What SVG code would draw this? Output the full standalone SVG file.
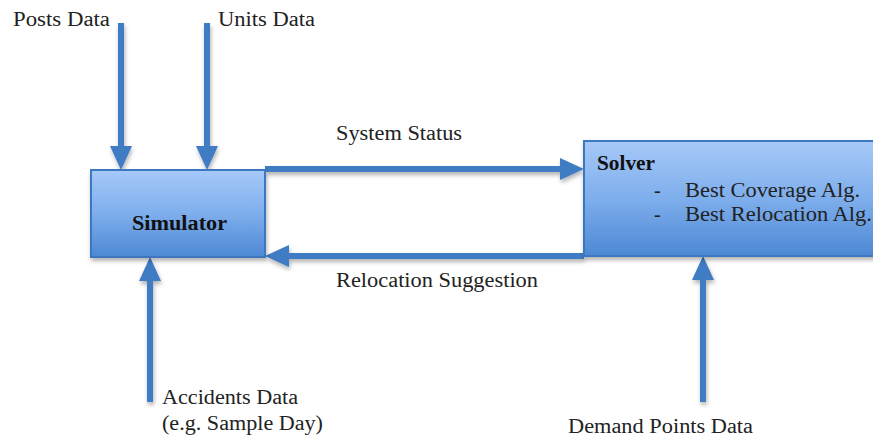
<svg xmlns="http://www.w3.org/2000/svg" width="873" height="438" viewBox="0 0 873 438">
<defs>
<linearGradient id="boxGrad" x1="0" y1="0" x2="0" y2="1">
<stop offset="0" stop-color="#a6c9f8"/>
<stop offset="0.5" stop-color="#7eaeec"/>
<stop offset="1" stop-color="#4d88d4"/>
</linearGradient>
<filter id="shadow" x="-10%" y="-10%" width="130%" height="140%">
<feDropShadow dx="1" dy="3" stdDeviation="2" flood-color="#000" flood-opacity="0.3"/>
</filter>
<marker id="head" viewBox="0 0 24 22" markerWidth="24" markerHeight="22" refX="10" refY="11" orient="auto" markerUnits="userSpaceOnUse">
<path d="M0,0 L24,11 L0,22 z" fill="#3f7bc3"/>
</marker>
</defs>
<style>
.box{fill:url(#boxGrad);stroke:#3d77c0;stroke-width:2;filter:url(#shadow)}
.conn{stroke:#3f7bc3;stroke-width:6;fill:none;marker-end:url(#head)}
.lbl{font-family:"Liberation Serif","Times New Roman",serif;font-size:20px;fill:#222}
.bold{font-family:"Liberation Serif","Times New Roman",serif;font-size:20px;font-weight:bold;fill:#111}
</style>
<rect width="873" height="438" fill="#fff"/>
<g id="connectors" filter="url(#shadow)">
<line class="conn" x1="121" y1="23" x2="121" y2="156"/>
<line class="conn" x1="207" y1="23" x2="207" y2="156"/>
<line class="conn" x1="150" y1="402" x2="150" y2="271"/>
<line class="conn" x1="703" y1="402" x2="703" y2="270"/>
<line class="conn" x1="265" y1="169" x2="570" y2="169"/>
<line class="conn" x1="584" y1="256" x2="279" y2="256"/>
</g>
<g id="simulator">
<rect class="box" x="91" y="170" width="174" height="87"/>
<text class="bold" x="132" y="230" textLength="95" lengthAdjust="spacingAndGlyphs">Simulator</text>
</g>
<g id="solver">
<rect class="box" x="584" y="141" width="300" height="115"/>
<text class="bold" x="597" y="170" textLength="58" lengthAdjust="spacingAndGlyphs">Solver</text>
<text class="lbl" x="654" y="197">-</text>
<text class="lbl" x="685" y="197" textLength="175" lengthAdjust="spacingAndGlyphs">Best Coverage Alg.</text>
<text class="lbl" x="654" y="221">-</text>
<text class="lbl" x="685" y="221" textLength="187" lengthAdjust="spacingAndGlyphs">Best Relocation Alg.</text>
</g>
<g id="posts-data">
<text class="lbl" x="13" y="26" textLength="97" lengthAdjust="spacingAndGlyphs">Posts Data</text>
</g>
<g id="units-data">
<text class="lbl" x="218" y="26" textLength="97" lengthAdjust="spacingAndGlyphs">Units Data</text>
</g>
<g id="accidents-data">
<text class="lbl" x="162" y="404" textLength="136" lengthAdjust="spacingAndGlyphs">Accidents Data</text>
<text class="lbl" x="162" y="430" textLength="161" lengthAdjust="spacingAndGlyphs">(e.g. Sample Day)</text>
</g>
<g id="demand-points-data">
<text class="lbl" x="568" y="433" textLength="185" lengthAdjust="spacingAndGlyphs">Demand Points Data</text>
</g>
<g id="labels">
<text class="lbl" x="336" y="140" textLength="126" lengthAdjust="spacingAndGlyphs">System Status</text>
<text class="lbl" x="336" y="287" textLength="202" lengthAdjust="spacingAndGlyphs">Relocation Suggestion</text>
</g>
</svg>
